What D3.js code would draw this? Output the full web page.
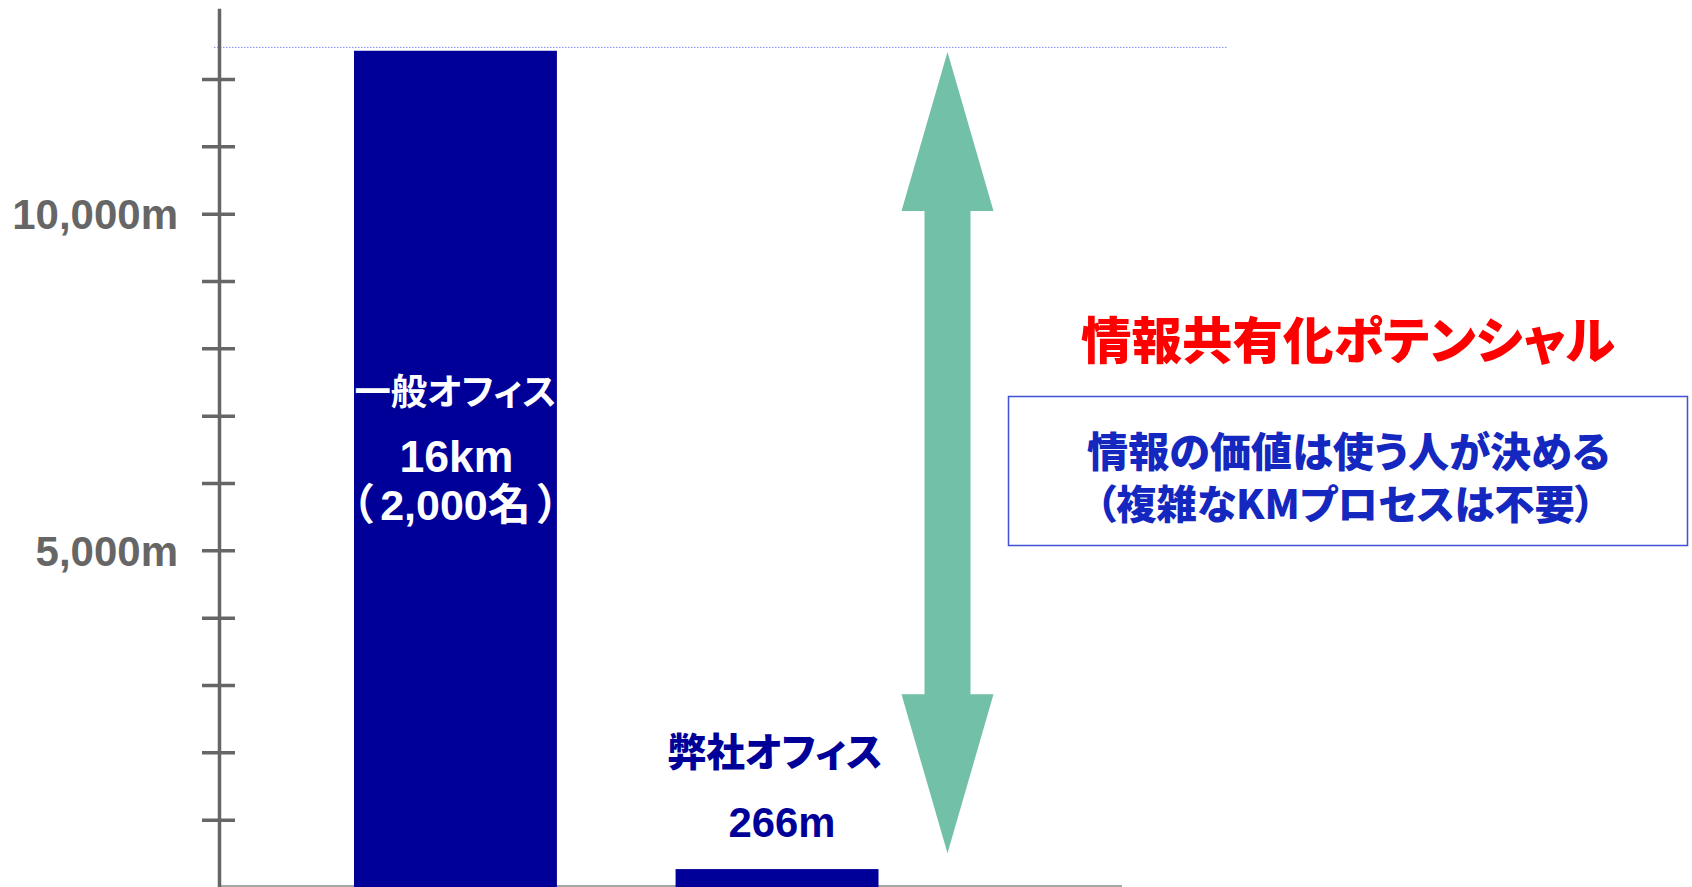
<!DOCTYPE html>
<html>
<head>
<meta charset="utf-8">
<script src="https://cdn.jsdelivr.net/npm/d3@7"></script>
<style>
  html, body { margin: 0; padding: 0; background: #fff; }
  svg { display: block; }
  .jp { font-family: "Noto Sans CJK JP", "Noto Sans", sans-serif; font-feature-settings: "palt" 1; }
  .lat { font-family: "Liberation Sans", Arial, "Noto Sans CJK JP", sans-serif; font-feature-settings: "palt" 1; }
</style>
</head>
<body>
<svg id="chart" width="1692" height="887"></svg>
<script>
// ---- data ----
const categories = ["一般オフィス", "弊社オフィス"];
const distances = [16000, 266];            // metres
const valueLabels = ["16km", "266m"];
const peopleLabel = ["（", "2,000名", "）"];
const tickValues = [1000, 2000, 3000, 4000, 5000, 6000, 7000, 8000, 9000, 10000, 11000, 12000];
const labeledTicks = [5000, 10000];
const tickLabels = ["5,000m", "10,000m"];
const displayCap = 12420;   // tall bar is cut at this height
const axisTop = 13050;
const guideValue = 12470;
const arrowRange = [12400, 500];
const titleText = "情報共有化ポテンシャル";
const boxLines = ["情報の価値は使う人が決める", "（複雑なKMプロセスは不要）"];

// ---- layout ----
const svg = d3.select("#chart");
const axisX = 219;
const y = d3.scaleLinear().domain([0, 10000]).range([887, 213.7]);
const x = d3.scaleBand().domain(categories).range([354, 878.5]).paddingInner(0.369).paddingOuter(0);

function fit(sel, target) {
  const w = sel.node().getComputedTextLength();
  const fs = parseFloat(sel.attr("font-size"));
  if (w > 0) sel.attr("font-size", fs * target / w);
  return sel;
}

// guide dotted line
svg.append("line")
  .attr("x1", 214).attr("x2", 1228)
  .attr("y1", y(guideValue)).attr("y2", y(guideValue))
  .attr("stroke", "#7f8cff").attr("stroke-width", 1)
  .attr("stroke-dasharray", "1.5 1.5");

// baseline
svg.append("line")
  .attr("x1", axisX).attr("x2", 1122)
  .attr("y1", y(0) - 1).attr("y2", y(0) - 1)
  .attr("stroke", "#a6a6a6").attr("stroke-width", 2);

// bars
svg.selectAll("rect.bar").data(categories).join("rect")
  .attr("class", "bar")
  .attr("x", d => x(d))
  .attr("width", x.bandwidth())
  .attr("y", (d, i) => y(Math.min(distances[i], displayCap)))
  .attr("height", (d, i) => y(0) - y(Math.min(distances[i], displayCap)))
  .attr("fill", "#000099");

// y axis
const yAxis = d3.scaleLinear().domain([0, axisTop]).range([y(0), y(axisTop)]);
const axis = d3.axisLeft(yAxis)
  .tickValues(tickValues)
  .tickSize(0)
  .tickSizeOuter(0)
  .tickFormat(d => { const k = labeledTicks.indexOf(d); return k >= 0 ? tickLabels[k] : ""; });
const gA = svg.append("g").attr("transform", `translate(${axisX},0)`).call(axis);
gA.select(".domain").attr("stroke", "#666").attr("stroke-width", 3.5);
gA.selectAll(".tick line").attr("x1", -17).attr("x2", 16).attr("stroke", "#666").attr("stroke-width", 3.5);
gA.selectAll(".tick text")
  .attr("class", "lat")
  .attr("x", -41).attr("dy", "0.36em")
  .attr("font-size", 42).attr("font-weight", 700)
  .attr("fill", "#666").attr("text-anchor", "end");

// labels on tall bar (white)
const c1 = x(categories[0]) + x.bandwidth() / 2;
const t1 = svg.append("text").attr("class", "jp")
  .attr("x", c1).attr("y", 389).attr("dominant-baseline", "central")
  .attr("text-anchor", "middle").attr("font-size", 40).attr("font-weight", 700)
  .attr("fill", "#fff").text(categories[0]);
fit(t1, 202);
const t2 = svg.append("text").attr("class", "lat")
  .attr("x", c1 + 1).attr("y", 472)
  .attr("text-anchor", "middle").attr("font-size", 44).attr("font-weight", 700)
  .attr("fill", "#fff").text(valueLabels[0]);
fit(t2, 114);
const t3 = svg.append("text").attr("class", "lat")
  .attr("x", c1).attr("y", 520)
  .attr("text-anchor", "middle").attr("font-size", 43).attr("font-weight", 700)
  .attr("fill", "#fff");
t3.selectAll("tspan").data(peopleLabel).join("tspan")
  .attr("dx", (d, i) => i === 0 ? 0 : 7)
  .text(d => d);

// labels above short bar (navy)
const c2 = x(categories[1]) + x.bandwidth() / 2;
const t4 = svg.append("text").attr("class", "jp")
  .attr("x", c2 - 2).attr("y", 749).attr("dominant-baseline", "central")
  .attr("text-anchor", "middle").attr("font-size", 40).attr("font-weight", 900)
  .attr("fill", "#000099").text(categories[1]);
fit(t4, 215);
const t5 = svg.append("text").attr("class", "lat")
  .attr("x", c2 + 5).attr("y", 837)
  .attr("text-anchor", "middle").attr("font-size", 43).attr("font-weight", 700)
  .attr("fill", "#000099").text(valueLabels[1]);
fit(t5, 107);

// double-headed arrow
const ax = 947.5, headLen = 159, headHW = 46, shaftHW = 23;
const yTop = y(arrowRange[0]), yBot = y(arrowRange[1]);
const p = d3.path();
p.moveTo(ax, yTop);
p.lineTo(ax + headHW, yTop + headLen);
p.lineTo(ax + shaftHW, yTop + headLen);
p.lineTo(ax + shaftHW, yBot - headLen);
p.lineTo(ax + headHW, yBot - headLen);
p.lineTo(ax, yBot);
p.lineTo(ax - headHW, yBot - headLen);
p.lineTo(ax - shaftHW, yBot - headLen);
p.lineTo(ax - shaftHW, yTop + headLen);
p.lineTo(ax - headHW, yTop + headLen);
p.closePath();
svg.append("path").attr("d", p.toString()).attr("fill", "#72c0a8");

// title
const tt = svg.append("text").attr("class", "jp")
  .attr("x", 1348).attr("y", 337).attr("dominant-baseline", "central")
  .attr("text-anchor", "middle").attr("font-size", 50).attr("font-weight", 900)
  .attr("fill", "#ff0000").text(titleText);
fit(tt, 534);

// box
svg.append("rect")
  .attr("x", 1008.5).attr("y", 396.5).attr("width", 679).attr("height", 149)
  .attr("fill", "none").attr("stroke", "#3f51d6").attr("stroke-width", 1.5);
const boxY = [449, 501], boxX = [1348.5, 1345.5], boxW = [523, 499];
const boxText = svg.append("text").attr("class", "jp")
  .attr("text-anchor", "middle").attr("font-weight", 900).attr("fill", "#1428c0");
boxLines.forEach((s, i) => {
  const ts = boxText.append("tspan")
    .attr("x", boxX[i]).attr("y", boxY[i]).attr("dominant-baseline", "central")
    .attr("font-size", 40).text(s);
  fit(ts, boxW[i]);
});
</script>
</body>
</html>
